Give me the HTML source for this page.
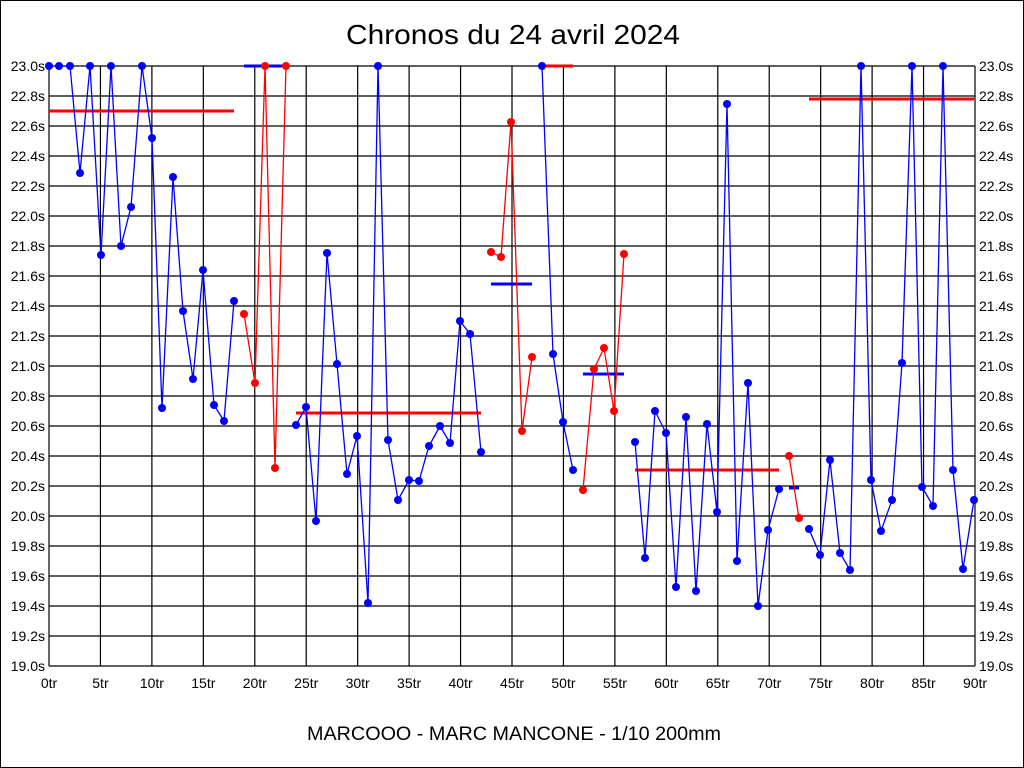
<!DOCTYPE html>
<html><head><meta charset="utf-8"><style>
html,body{margin:0;padding:0;background:#fff}
svg{display:block}
text{font-family:"Liberation Sans",sans-serif}
</style></head><body>
<svg id="s" width="1024" height="768" xmlns="http://www.w3.org/2000/svg">
<rect x="0.5" y="0.5" width="1023" height="767" fill="#fff" stroke="#000"/>
<text x="513" y="44" font-size="28" text-anchor="middle" textLength="334" lengthAdjust="spacingAndGlyphs">Chronos du 24 avril 2024</text>
<text x="514" y="740" font-size="19" text-anchor="middle" textLength="414" lengthAdjust="spacingAndGlyphs">MARCOOO - MARC MANCONE - 1/10 200mm</text>
<g id="g"></g>
</svg>
<script>
var g=document.getElementById('g'),h='';
var X0=49,X1=975,Y0=66,Y1=666;
for(var i=0;i<=20;i++){var y=Y0+i*30;h+='<line x1="'+X0+'" y1="'+y+'" x2="'+X1+'" y2="'+y+'" stroke="#000" stroke-width="1.2"/>';
var v=(23-i*0.2).toFixed(1)+'s';h+='<text x="45" y="'+(y+5)+'" font-size="14" text-anchor="end">'+v+'</text><text x="979" y="'+(y+5)+'" font-size="14">'+v+'</text>';}
for(var i=0;i<=18;i++){var x=X0+i*(X1-X0)/18;h+='<line x1="'+x+'" y1="'+Y0+'" x2="'+x+'" y2="'+Y1+'" stroke="#000" stroke-width="1.2"/>';
h+='<text x="'+x+'" y="688" font-size="14" text-anchor="middle">'+(i*5)+'tr</text>';}
var segs=[
['b',[[49,66],[59,66],[70,66],[80,173],[90,66],[101,255],[111,66],[121,246],[131,207],[142,66],[152,138],[162,408],[173,177],[183,311],[193,379],[203,270],[214,405],[224,421],[234,301]]],
['r',[[244,314],[255,383],[265,66],[275,468],[286,66]]],
['b',[[296,425],[306,407],[316,521],[327,253],[337,364],[347,474],[357,436],[368,603],[378,66],[388,440],[398,500],[409,480],[419,481],[429,446],[440,426],[450,443],[460,321],[470,334],[481,452]]],
['r',[[491,252],[501,257],[511,122],[522,431],[532,357]]],
['b',[[542,66],[553,354],[563,422],[573,470]]],
['r',[[583,490],[594,369],[604,348],[614,411],[624,254]]],
['b',[[635,442],[645,558],[655,411],[666,433],[676,587],[686,417],[696,591],[707,424],[717,512],[727,104],[737,561],[748,383],[758,606],[768,530],[779,489]]],
['r',[[789,456],[799,518]]],
['b',[[809,529],[820,555],[830,460],[840,553],[850,570],[861,66],[871,480],[881,531],[892,500],[902,363],[912,66],[922,487],[933,506],[943,66],[953,470],[963,569],[974,500]]]];
var avg=[['r',49,234,111],['b',244,288,66],['r',296,481,413],['b',491,532,284],['r',542,573,66],['b',583,624,374],['r',635,779,470],['b',789,799,488],['r',809,974,99]];
avg.forEach(function(a){h+='<line x1="'+a[1]+'" y1="'+a[3]+'" x2="'+a[2]+'" y2="'+a[3]+'" stroke="'+(a[0]=='r'?'#f00':'#00f')+'" stroke-width="3"/>';});
segs.forEach(function(s){var c=s[0]=='r'?'#f00':'#00f';h+='<polyline fill="none" stroke="'+c+'" stroke-width="1.3" points="'+s[1].map(function(p){return p.join(',')}).join(' ')+'"/>';
s[1].forEach(function(p){h+='<circle cx="'+p[0]+'" cy="'+p[1]+'" r="4" fill="'+c+'"/>';});});
g.innerHTML=h;
</script>
</body></html>
